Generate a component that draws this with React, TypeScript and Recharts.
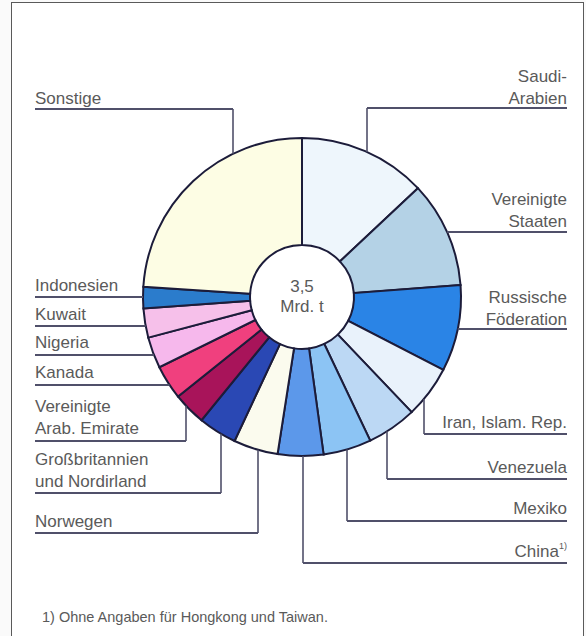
import React from 'react';
import { PieChart, Pie, Cell } from 'recharts';

// Förderung in Mio. t (Summe ≈ 3,5 Mrd. t)
const countries = [
  'Saudi-Arabien', 'Vereinigte Staaten', 'Russische Föderation', 'Iran, Islam. Rep.',
  'Venezuela', 'Mexiko', 'China', 'Norwegen', 'Großbritannien und Nordirland',
  'Vereinigte Arab. Emirate', 'Kanada', 'Nigeria', 'Kuwait', 'Indonesien', 'Sonstige',
];
const production = [455, 378, 307, 186, 177, 171, 162, 158, 137, 117, 122, 111, 104, 76, 839];
const labelLines: string[][] = [
  ['Saudi-', 'Arabien'], ['Vereinigte', 'Staaten'], ['Russische', 'Föderation'], ['Iran, Islam. Rep.'],
  ['Venezuela'], ['Mexiko'], ['China'], ['Norwegen'], ['Großbritannien', 'und Nordirland'],
  ['Vereinigte', 'Arab. Emirate'], ['Kanada'], ['Nigeria'], ['Kuwait'], ['Indonesien'], ['Sonstige'],
];
const centerLines = ['3,5', 'Mrd. t'];
const footnote = '1) Ohne Angaben für Hongkong und Taiwan.';

const colors = [
  '#eef6fc', '#b4d2e6', '#2a84e6', '#e9f2fb', '#bcd8f4', '#8cc4f4', '#5c98ea', '#fbfbee',
  '#2a48b4', '#a8145a', '#f0407e', '#f6b8ec', '#f6c0ea', '#2b7ccc', '#fdfde4',
];

// label layout: side, underline y, optional vertical leader x, first baseline
type Lay = { side: 'L' | 'R'; uy: number; vx?: number; by: number; sup?: boolean };
const layout: Lay[] = [
  { side: 'R', uy: 108, vx: 367, by: 82 },
  { side: 'R', uy: 232, by: 205 },
  { side: 'R', uy: 329, by: 303 },
  { side: 'R', uy: 434, vx: 424, by: 428 },
  { side: 'R', uy: 479, vx: 387, by: 473 },
  { side: 'R', uy: 521, vx: 347, by: 514 },
  { side: 'R', uy: 563, vx: 303, by: 557, sup: true },
  { side: 'L', uy: 533, vx: 258, by: 527 },
  { side: 'L', uy: 493, vx: 221, by: 465 },
  { side: 'L', uy: 441, vx: 186, by: 412 },
  { side: 'L', uy: 385, by: 378 },
  { side: 'L', uy: 355, by: 348 },
  { side: 'L', uy: 326, by: 320 },
  { side: 'L', uy: 297, by: 291 },
  { side: 'L', uy: 109, vx: 233, by: 104 },
];

const data = countries.map((name, i) => ({ name, value: production[i] }));

const LEFT_X = 35;
const RIGHT_X = 567;
const FONT = '"Liberation Sans", Arial, sans-serif';
const TEXT = '#5a5a5a';
const LINE = '#50506a';

const renderLabel = (props: any) => {
  const { cx, cy, outerRadius, index } = props;
  const lay = layout[index];
  const r = outerRadius;
  const els: React.ReactNode[] = [];
  if (lay.vx !== undefined) {
    const dx = lay.vx - cx;
    const h = Math.sqrt(Math.max(r * r - dx * dx, 0));
    const edgeY = lay.uy < cy ? cy - h : cy + h;
    els.push(<line key="v" x1={lay.vx} y1={edgeY} x2={lay.vx} y2={lay.uy} stroke={LINE} strokeWidth={1.6} />);
    const x1 = lay.side === 'R' ? lay.vx : LEFT_X;
    const x2 = lay.side === 'R' ? RIGHT_X : lay.vx;
    els.push(<line key="h" x1={x1} y1={lay.uy} x2={x2} y2={lay.uy} stroke={LINE} strokeWidth={1.8} />);
  } else {
    const dy = lay.uy - cy;
    const w = Math.sqrt(Math.max(r * r - dy * dy, 0));
    const edgeX = lay.side === 'R' ? cx + w : cx - w;
    const x1 = lay.side === 'R' ? edgeX : LEFT_X;
    const x2 = lay.side === 'R' ? RIGHT_X : edgeX;
    els.push(<line key="h" x1={x1} y1={lay.uy} x2={x2} y2={lay.uy} stroke={LINE} strokeWidth={1.8} />);
  }
  const lines = labelLines[index];
  lines.forEach((t, j) => {
    const isR = lay.side === 'R';
    if (lay.sup) {
      els.push(
        <text key={'t' + j} x={RIGHT_X} y={lay.by + j * 22} textAnchor="end" fontFamily={FONT} fontSize={17} fill={TEXT}>
          {t}
          <tspan fontSize={9} dy={-8}>1)</tspan>
        </text>
      );
    } else {
      els.push(
        <text key={'t' + j} x={isR ? RIGHT_X : LEFT_X} y={lay.by + j * 22} textAnchor={isR ? 'end' : 'start'}
          fontFamily={FONT} fontSize={17} fill={TEXT}>
          {t}
        </text>
      );
    }
  });
  if (index === 0) {
    centerLines.forEach((t, j) => {
      els.push(
        <text key={'c' + j} x={cx} y={cy - 5 + j * 20} textAnchor="middle" fontFamily={FONT} fontSize={17} fill={TEXT}>
          {t}
        </text>
      );
    });
  }
  return <g key={'lab' + index}>{els}</g>;
};

export default function App() {
  return (
    <div style={{ position: 'absolute', left: 0, top: 0, width: 586, height: 636, background: '#fafafa', overflow: 'hidden' }}>
      <div style={{ position: 'absolute', left: 11, top: 2, width: 571, height: 660, border: '1.6px solid #5a5a5a', background: '#ffffff' }} />
      <div style={{ position: 'absolute', left: 0, top: 0 }}>
        <PieChart width={586} height={636} margin={{ top: 0, right: 0, bottom: 0, left: 0 }}>
          <Pie
            data={data}
            dataKey="value"
            nameKey="name"
            cx={302}
            cy={297}
            outerRadius={159}
            innerRadius={52}
            startAngle={90}
            endAngle={-270}
            stroke="#1c1c3a"
            strokeWidth={2}
            label={renderLabel}
            labelLine={false}
            isAnimationActive={false}
          >
            {data.map((d, i) => (
              <Cell key={d.name} fill={colors[i]} />
            ))}
          </Pie>
        </PieChart>
      </div>
      <div style={{ position: 'absolute', left: 42, top: 609, fontFamily: FONT, fontSize: 14.5, color: TEXT, whiteSpace: 'nowrap' }}>
        {footnote}
      </div>
    </div>
  );
}
